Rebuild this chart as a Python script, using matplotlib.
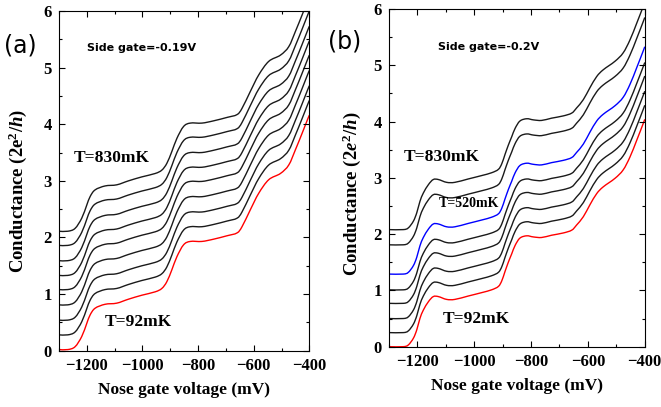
import numpy as np
import matplotlib.pyplot as plt
from matplotlib.path import Path
from matplotlib.patches import PathPatch

# base trace (lowest temperature, 92 mK)
volt_a = [-1300, -1268, -1242, -1218, -1200, -1188, -1170, -1134, -1092, -1050,
          -1002, -954, -930, -912, -894, -876, -852, -828, -786, -744, -696,
          -660, -642, -612, -582, -546, -504, -474, -450, -426, -406, -400]
cond_a = [0.02, 0.02, 0.07, 0.25, 0.48, 0.63, 0.75, 0.82, 0.84, 0.91,
          0.98, 1.04, 1.10, 1.22, 1.43, 1.66, 1.87, 1.93, 1.93, 1.97, 2.03,
          2.08, 2.19, 2.49, 2.78, 3.02, 3.13, 3.28, 3.55, 3.84, 4.09, 4.16]
offsets_a = [0.0, 0.26, 0.52, 0.79, 1.06, 1.31, 1.57, 1.84, 2.09]
colors_a = ['red'] + ['#1a1a1a'] * 8

volt_b = [-1300, -1250, -1232, -1214, -1202, -1191, -1179, -1161, -1144, -1126,
          -1097, -1068, -1021, -974, -939, -915, -903, -892, -880, -868, -856,
          -839, -815, -792, -763, -728, -687, -657, -640, -616, -593, -569,
          -546, -505, -476, -452, -428, -405, -400]
cond_b = [0.0, 0.0, 0.03, 0.15, 0.30, 0.50, 0.65, 0.80, 0.89, 0.89,
          0.84, 0.84, 0.90, 0.96, 1.01, 1.07, 1.17, 1.33, 1.50, 1.65, 1.80,
          1.93, 1.97, 1.95, 1.94, 1.98, 2.02, 2.07, 2.16, 2.31, 2.52, 2.72,
          2.84, 2.99, 3.14, 3.37, 3.67, 3.97, 4.04]
offsets_b = [0.0, 0.25, 0.50, 0.77, 1.01, 1.29, 1.81, 2.08]
colors_b = ['red', '#1a1a1a', '#1a1a1a', '#1a1a1a', '#1a1a1a', 'blue', '#1a1a1a', '#1a1a1a']

xticks = [-1200, -1000, -800, -600, -400]
yticks = [0, 1, 2, 3, 4, 5, 6]

plt.rcParams['font.family'] = 'Liberation Serif'
plt.rcParams['font.weight'] = 'bold'
plt.rcParams['mathtext.fontset'] = 'custom'
plt.rcParams['mathtext.rm'] = 'Liberation Serif:bold'
plt.rcParams['mathtext.it'] = 'Liberation Serif:italic:bold'
plt.rcParams['mathtext.bf'] = 'Liberation Serif:bold'

fig = plt.figure(figsize=(6.61, 4.07), dpi=100)
ax_a = fig.add_axes([0.0891, 0.1383, 0.3789, 0.8347])
ax_b = fig.add_axes([0.5884, 0.1482, 0.3870, 0.8297])


def smooth_line(ax, xs, ys, color):
    # draw a smooth curve through the read points (Catmull-Rom as Bezier segments)
    pts = np.column_stack([xs, ys])
    verts = [pts[0]]
    codes = [Path.MOVETO]
    n = len(pts)
    for i in range(n - 1):
        p0 = pts[max(i - 1, 0)]
        p1 = pts[i]
        p2 = pts[i + 1]
        p3 = pts[min(i + 2, n - 1)]
        c1 = p1 + (p2 - p0) / 6.0
        c2 = p2 - (p3 - p1) / 6.0
        verts += [c1, c2, p2]
        codes += [Path.CURVE4] * 3
    ax.add_patch(PathPatch(Path(verts, codes), fill=False, edgecolor=color, lw=1.0))


def style_axis(ax, ylabel):
    ax.set_xlim(-1300, -400)
    ax.set_ylim(0, 6)
    ax.set_xticks(xticks)
    ax.set_yticks(yticks)
    ax.set_xticks(np.arange(-1300, -399, 100), minor=True)
    ax.set_yticks(np.arange(0, 6.01, 0.5), minor=True)
    ax.tick_params(which='both', direction='in', top=True, right=True,
                   labelsize=12, width=0.8)
    ax.tick_params(which='major', length=4, pad=5)
    ax.tick_params(which='minor', length=2.5)
    for lab in ax.get_xticklabels() + ax.get_yticklabels():
        lab.set_fontweight('bold')
    ax.set_xlabel('Nose gate voltage (mV)', fontsize=12.5, fontweight='bold', labelpad=6)
    ax.set_ylabel(ylabel, fontsize=13.5, fontweight='bold')
    for sp in ax.spines.values():
        sp.set_linewidth(0.8)


for off, c in zip(offsets_a, colors_a):
    smooth_line(ax_a, volt_a, np.array(cond_a) + off, c)
for off, c in zip(offsets_b, colors_b):
    smooth_line(ax_b, volt_b, np.array(cond_b) + off, c)

style_axis(ax_a, 'Conductance (2e$^{2}$/$h$)')
style_axis(ax_b, 'Conductance (2$e^{2}$/$h$)')
ax_a.yaxis.set_label_coords(-0.118, 0.47)
ax_b.yaxis.set_label_coords(-0.102, 0.452)

ax_a.text(-1199, 5.35, 'Side gate=-0.19V', family='DejaVu Sans', fontsize=8,
          fontweight='bold', va='center')
ax_b.text(-1126, 5.32, 'Side gate=-0.2V', family='DejaVu Sans', fontsize=8,
          fontweight='bold', va='center')
ax_a.text(-1246, 3.41, 'T=830mK', fontsize=12.5, fontweight='bold', va='center')
ax_a.text(-1137, 0.50, 'T=92mK', fontsize=12.5, fontweight='bold', va='center')
ax_b.text(-1247, 3.37, 'T=830mK', fontsize=12.5, fontweight='bold', va='center')
ax_b.text(-1126, 2.54, 'T=520mK', fontsize=10, fontweight='bold', va='center')
ax_b.text(-1111, 0.50, 'T=92mK', fontsize=12.5, fontweight='bold', va='center')

fig.text(0.006, 0.887, '(a)', family='DejaVu Sans', fontsize=17,
         fontweight='normal', va='center')
fig.text(0.496, 0.897, '(b)', family='DejaVu Sans', fontsize=17,
         fontweight='normal', va='center')

fig.savefig('out.png', dpi=100)
